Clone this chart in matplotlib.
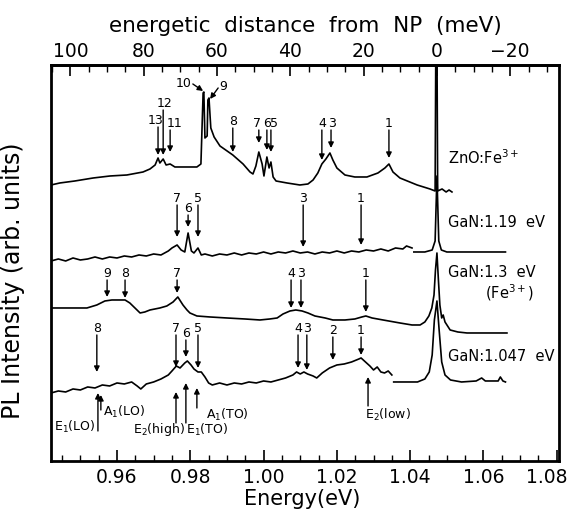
import numpy as np
import matplotlib.pyplot as plt
import matplotlib.transforms as mtransforms
from matplotlib.ticker import MultipleLocator

# energies in meV, intensities in arb. units (traces are offset)
E_NP = 1047.3

# ZnO:Fe3+
zno_e = [942.0, 944.4, 948.5, 953.5, 958.1, 962.7, 967.1, 969.0, 970.4, 971.2, 971.7, 972.6, 973.4,
         974.5, 975.8, 978.6, 981.8, 982.9, 983.5, 983.7, 984.0, 984.6, 984.8, 985.1, 985.6, 986.5,
         988.1, 991.6, 994.4, 996.3, 997.1, 997.9, 998.7, 999.6, 1000.1, 1000.9, 1001.5, 1002.0,
         1002.6, 1003.4, 1006.4, 1009.9, 1012.1, 1013.5, 1014.8, 1015.9, 1017.0, 1018.1, 1018.9,
         1020.0, 1022.2, 1024.9, 1028.2, 1031.2, 1033.1, 1034.2, 1035.3, 1037.2, 1041.9, 1045.4,
         1046.8, 1047.0, 1047.3, 1047.5, 1048.7, 1049.8, 1050.6, 1051.4]
zno_i = [276, 278, 280, 283, 285, 286, 289, 292, 296, 303, 298, 302, 296,
         297, 294, 294, 294, 297, 368, 369, 323, 325, 361, 363, 333, 324,
         315, 306, 297, 289, 287, 295, 309, 297, 285, 304, 293, 299,
         284, 280, 278, 276, 277, 281, 288, 297, 302, 308, 301,
         293, 286, 284, 284, 288, 293, 297, 289, 283, 276, 272,
         270, 420, 420, 270, 272, 269, 271, 269]

# GaN:1.19 eV (two recorded parts)
g119_e = [942, 944, 946, 948, 950, 952, 954, 956, 958, 960, 962, 964, 966, 968, 970, 972, 974,
          975, 976.4, 977.5, 978.5, 979.4, 980.3, 981, 982.1, 983, 984, 986, 988, 990, 992, 994,
          996, 998, 1000, 1002, 1004, 1006, 1008, 1010, 1012, 1014, 1016, 1018, 1020, 1022, 1024,
          1026, 1028, 1030, 1032, 1034, 1036, 1038, 1039, 1040.5]
g119_i = [200, 202, 200, 203, 201, 202, 204, 202, 204, 203, 205, 204, 206, 205, 207, 206, 210,
          213, 216, 211, 209, 228, 210, 208, 213, 206, 207, 205, 207, 206, 208, 206,
          208, 207, 209, 207, 209, 208, 210, 208, 209, 207, 209, 208, 210, 208, 210,
          209, 211, 210, 212, 210, 213, 212, 215, 213]
g119b_e = [1041, 1044, 1046, 1046.8, 1047.3, 1047.8, 1048.5, 1050, 1056, 1060, 1066]
g119b_i = [209, 209, 211, 220, 285, 220, 211, 209, 209, 209, 209]

# GaN:1.3 eV (Fe3+)
g13_e = [942.0, 944.4, 951.8, 954.5, 956.7, 958.6, 962.2, 963.5, 964.9, 966.3, 967.6, 969.0, 971.7,
         973.6, 975.3, 976.6, 978.0, 979.1, 979.9, 981.8, 985.4, 990.0, 994.9, 999.0, 1001.7,
         1003.7, 1005.3, 1007.2, 1008.8, 1010.5, 1012.1, 1014.0, 1016.8, 1018.9, 1022.2, 1024.9,
         1026.8, 1027.9, 1029.6, 1032.6, 1037.2, 1040.5, 1042.7, 1044.0, 1045.1, 1045.9, 1046.5,
         1046.9, 1047.3, 1047.7, 1048.1, 1048.6, 1049.0, 1049.5, 1050.9, 1053.0, 1055.5, 1061.8,
         1066.4]
g13_i = [153, 153, 153, 156, 160, 161, 161, 158, 153, 148, 149, 151, 153,
         155, 159, 164, 156, 151, 148, 145, 144, 143, 142, 141, 142,
         143, 147, 150, 151, 150, 148, 145, 143, 141, 141, 142,
         144, 145, 143, 141, 138, 136, 136, 139, 145, 153, 166,
         191, 208, 181, 156, 143, 146, 139, 131, 129, 128, 128,
         128]

# GaN:1.047 eV (two recorded parts)
g1047_e = [942, 944, 946, 948, 950, 952, 954, 956, 958, 960, 962, 964, 965.5, 966.5, 968, 970,
           972, 974, 975, 976.2, 977.2, 978.5, 979.2, 980.2, 981, 982.1, 983, 984, 985, 986, 988,
           990, 992, 994, 996, 998, 1000, 1002, 1004, 1006, 1008, 1009, 1010, 1011, 1012, 1013.5,
           1014.5, 1016, 1018, 1020, 1022, 1024, 1026, 1026.6, 1027.5, 1029, 1030, 1031, 1032,
           1033, 1034, 1035]
g1047_i = [68, 70, 69, 72, 71, 74, 73, 76, 75, 78, 77, 79, 75, 72, 77, 79,
           82, 86, 90, 95, 93, 98, 100, 96, 92, 89, 89, 84, 78, 76, 78,
           76, 78, 77, 79, 78, 80, 79, 81, 83, 86, 89, 87, 89, 87, 85,
           83, 88, 93, 96, 97, 99, 102, 103, 100, 95, 91, 94, 89,
           88, 90, 86]
g1047b_e = [1035.5, 1038, 1042, 1044, 1045.2, 1046, 1046.6, 1047.3, 1047.9, 1048.6, 1049.5, 1051,
            1054, 1058, 1059.5, 1060.5, 1064, 1064.6, 1065.3, 1066]
g1047b_i = [79, 79, 79, 82, 89, 106, 141, 160, 131, 99, 86, 81,
            79, 80, 83, 80, 80, 84, 80, 79]

# downward arrows: label, energy, tail, tip
zno_lbl = ['13', '12', '11', '8', '7', '6', '5', '4', '3', '1']
zno_ae = [971.2, 972.6, 974.5, 991.6, 998.7, 1000.9, 1002.0, 1015.9, 1018.4, 1034.2]
zno_top = [334, 351, 331, 333, 331, 331, 331, 331, 331, 331]
zno_tip = [306, 306, 309, 309, 318, 311, 309, 301, 313, 303]
zno_dx = [-2, 1, 3, 0, -1, 0, 2.5, 0, 1, 0]

diag_lbl = ['10', '9']
diag_e0 = [980.7, 987.6]
diag_i0 = [377, 373]
diag_e1 = [983.5, 985.4]
diag_i1 = [370, 362]

g119_lbl = ['7', '6', '5', '3', '1']
g119_ae = [976.4, 979.4, 982.1, 1010.8, 1026.6]
g119_top = [256, 246, 256, 256, 256]
g119_tip = [224, 234, 224, 214, 216]

g13_lbl = ['9', '8', '7', '4', '3', '1']
g13_ae = [957.3, 962.2, 976.4, 1007.5, 1010.2, 1027.9]
g13_top = [181, 181, 181, 181, 181, 181]
g13_tip = [164, 163, 168, 153, 153, 149]

g1047_lbl = ['8', '7', '6', '5', '4', '3', '2', '1']
g1047_ae = [954.5, 976.1, 978.8, 982.1, 1009.4, 1011.8, 1018.9, 1026.6]
g1047_top = [126, 126, 121, 126, 126, 126, 124, 124]
g1047_tip = [89, 94, 104, 93, 93, 91, 101, 106]

# phonon modes (upward arrows)
ph_lbl = [r'E$_1$(LO)', r'A$_1$(LO)', r'E$_2$(high)', r'E$_1$(TO)', r'A$_1$(TO)', r'E$_2$(low)']
ph_e = [954.8, 955.6, 976.1, 978.8, 981.8, 1028.5]
ph_bot = [30, 51, 38, 38, 53, 55]
ph_tip = [68, 66, 69, 78, 73, 84]
ph_txt_e = [954.2, 956.3, 978.6, 978.8, 984.3, 1027.7]
ph_txt_i = [34, 49, 31, 31, 46, 46]
ph_ha = ['right', 'left', 'right', 'left', 'left', 'left']

names = [r'ZnO:Fe$^{3+}$', 'GaN:1.19  eV', 'GaN:1.3  eV', r'(Fe$^{3+}$)', 'GaN:1.047  eV']
names_e = [1050.3, 1050.3, 1050.3, 1060.4, 1050.3]
names_i = [303, 238, 188, 168, 104]

fig = plt.figure(figsize=(5.69, 5.15), dpi=100)
ax = fig.add_axes([0.0896, 0.1049, 0.8928, 0.7689])

lw = 1.2
for e, i in [(zno_e, zno_i), (g119_e, g119_i), (g119b_e, g119b_i), (g13_e, g13_i),
             (g1047_e, g1047_i), (g1047b_e, g1047b_i)]:
    ax.plot(np.array(e) / 1000, i, color='k', lw=lw)

arrow = dict(arrowstyle='-|>', color='k', lw=1.0, mutation_scale=8, shrinkA=0, shrinkB=0)


def down_arrows(lbl, ae, top, tip, dx=None):
    for k in range(len(lbl)):
        x = ae[k] / 1000
        ax.annotate('', xy=(x, tip[k]), xytext=(x, top[k]), arrowprops=arrow)
        off = dx[k] if dx else 0
        ax.annotate(lbl[k], xy=(x, top[k]), xytext=(off, 0), textcoords='offset points',
                    ha='center', va='bottom', fontsize=9)


down_arrows(zno_lbl, zno_ae, zno_top, zno_tip, zno_dx)
down_arrows(g119_lbl, g119_ae, g119_top, g119_tip)
down_arrows(g13_lbl, g13_ae, g13_top, g13_tip)
down_arrows(g1047_lbl, g1047_ae, g1047_top, g1047_tip)

for k in range(len(diag_lbl)):
    ax.annotate('', xy=(diag_e1[k] / 1000, diag_i1[k]), xytext=(diag_e0[k] / 1000, diag_i0[k]),
                arrowprops=arrow)
ax.text(diag_e0[0] / 1000 - 0.0004, diag_i0[0], diag_lbl[0], ha='right', va='center', fontsize=9)
ax.text(diag_e0[1] / 1000 + 0.0003, diag_i0[1] + 1, diag_lbl[1], ha='left', va='center', fontsize=9)

for k in range(len(ph_lbl)):
    x = ph_e[k] / 1000
    ax.annotate('', xy=(x, ph_tip[k]), xytext=(x, ph_bot[k]), arrowprops=arrow)
    ax.text(ph_txt_e[k] / 1000, ph_txt_i[k], ph_lbl[k], ha=ph_ha[k], va='center', fontsize=9)

for k in range(len(names)):
    ax.text(names_e[k] / 1000, names_i[k], names[k], ha='left', va='center', fontsize=10.5)

ax.set_xlim(0.94199, 1.0806)
ax.set_ylim(0, 396)
ax.set_yticks([])
ax.set_xticks([0.96, 0.98, 1.00, 1.02, 1.04, 1.06, 1.08])
ax.set_xticklabels(['0.96', '0.98', '1.00', '1.02', '1.04', '1.06', '1.08'])
ax.xaxis.set_minor_locator(MultipleLocator(0.005))
ax.tick_params(axis='x', which='major', direction='in', length=8, width=1.2, labelsize=13.5, pad=5)
ax.tick_params(axis='x', which='minor', direction='in', length=4, width=1.0)
for s in ax.spines.values():
    s.set_linewidth(2)

# last bottom label sits a little left of its tick, inside the figure
last = ax.get_xticklabels()[-1]
last.set_transform(last.get_transform() + mtransforms.ScaledTranslation(-10 / 100, 0, fig.dpi_scale_trans))

ax.set_xlabel('Energy(eV)', fontsize=15)
ax.xaxis.set_label_coords(0.494, -0.072)
ax.set_ylabel('PL Intensity (arb. units)', fontsize=17)
ax.yaxis.set_label_coords(-0.051, 0.455)

top = ax.secondary_xaxis('top', functions=(lambda e: (E_NP / 1000 - e) * 1000,
                                           lambda d: E_NP / 1000 - d / 1000))
top.set_xticks([100, 80, 60, 40, 20, 0, -20])
top.xaxis.set_minor_locator(MultipleLocator(5))
top.tick_params(axis='x', which='major', direction='in', length=8, width=1.2, labelsize=13.5, pad=3)
top.tick_params(axis='x', which='minor', direction='in', length=5, width=1.0)
top.spines['top'].set_linewidth(2)
top.set_xlabel('energetic  distance  from  NP  (meV)', fontsize=15.5, labelpad=7)

fig.savefig('out.png', dpi=100)
